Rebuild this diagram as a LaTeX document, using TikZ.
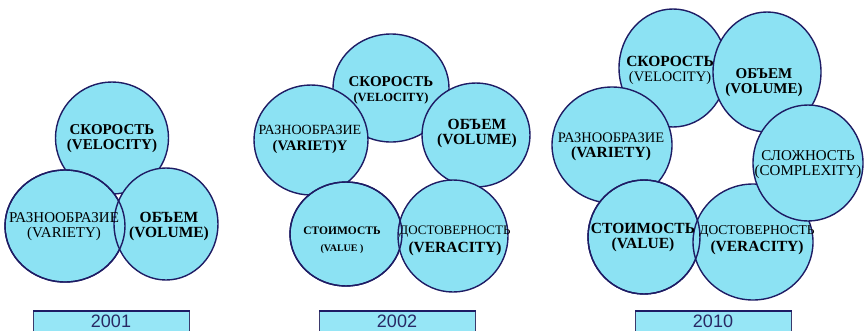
\documentclass[tikz,border=0pt]{standalone}
\usepackage{fontspec}
\setmainfont{Liberation Serif}
\newfontfamily\serifcyr{Liberation Serif}
\newfontfamily\yearfont{Liberation Sans}
\usetikzlibrary{shapes.geometric}
\definecolor{bubble}{RGB}{140,226,243}
\definecolor{rim}{RGB}{30,28,100}
\definecolor{yeartxt}{RGB}{40,40,100}
\definecolor{boxfill}{RGB}{150,230,246}
\newcommand{\fsz}[1]{\fontsize{#1}{#1}\selectfont}
\begin{document}
\begin{tikzpicture}[x=1pt,y=-1pt,
  bub/.style={ellipse,fill=bubble,draw=rim,line width=1.4pt,inner sep=0pt},
  rimonly/.style={ellipse,draw=rim,line width=1.4pt,inner sep=0pt},
  lbl/.style={align=center,inner sep=0pt,text=black,font=\serifcyr},
  yearbox/.style={fill=boxfill,draw=rim!70!gray,line width=0.8pt,minimum width=156,minimum height=30,inner sep=0pt},
  yeartop/.style={draw=rim,line width=1.6pt},
  yearlbl/.style={text=yeartxt,font=\yearfont\fsz{18},inner sep=0pt}]
\clip (0,0) rectangle (864,330);
\fill[white] (0,0) rectangle (864,330);

% ---------- 2001 ----------
\node[bub,minimum width=113,minimum height=112] (a1) at (112,138) {};
\node[bub,minimum width=120,minimum height=112] (a2) at (65,226) {};
\node[bub,minimum width=104,minimum height=112] (a3) at (166,224) {};
\node[rimonly,minimum width=120,minimum height=112] (a2r) at (65,226) {};

\node[lbl] (ta1) at (112,139) {{\serifcyr\bfseries\fsz{15}СКОРОСТЬ}\\[3pt]{\serifcyr\bfseries\fsz{15}(VELOCITY)}};
\node[lbl] (ta2) at (64,227) {{\serifcyr\fsz{15}РАЗНООБРАЗИЕ}\\[3pt]{\serifcyr\fsz{15}(VARIETY)}};
\node[lbl] (ta3) at (169,227) {{\serifcyr\bfseries\fsz{15.5}ОБЪЕМ}\\[3pt]{\serifcyr\bfseries\fsz{15.5}(VOLUME)}};

% ---------- 2002 ----------
\node[bub,minimum width=116,minimum height=108] (b1) at (391,88) {};
\node[bub,minimum width=114,minimum height=110] (b2) at (311,140) {};
\node[bub,minimum width=108,minimum height=104] (b3) at (476,135) {};
\node[bub,minimum width=112,minimum height=104] (b4) at (346,234) {};
\node[bub,minimum width=110,minimum height=112] (b5) at (453,236) {};
\node[rimonly,minimum width=112,minimum height=104] (b4r) at (346,234) {};

\node[lbl] (tb1) at (391,90) {{\serifcyr\bfseries\fsz{15}СКОРОСТЬ}\\[3pt]{\serifcyr\bfseries\fsz{12.5}(VELOCITY)}};
\node[lbl] (tb2) at (310,139) {{\serifcyr\fsz{14}РАЗНООБРАЗИЕ}\\[4pt]{\serifcyr\bfseries\fsz{14.5}(VARIET)Y}};
\node[lbl] (tb3) at (477,134) {{\serifcyr\bfseries\fsz{15.5}ОБЪЕМ}\\[3pt]{\serifcyr\bfseries\fsz{15.5}(VOLUME)}};
\node[lbl] (tb4) at (342,240) {{\serifcyr\bfseries\fsz{11.5}СТОИМОСТЬ}\\[5pt]{\serifcyr\bfseries\fsz{10}(VALUE )}};
\node[lbl] (tb5) at (455,241) {{\serifcyr\fsz{13}ДОСТОВЕРНОСТЬ}\\[4pt]{\serifcyr\bfseries\fsz{15.5}(VERACITY)}};

% ---------- 2010 ----------
\node[bub,minimum width=108,minimum height=118] (c1) at (673,68) {};
\node[bub,minimum width=108,minimum height=120] (c2) at (767,72) {};
\node[bub,minimum width=120,minimum height=116] (c3) at (612,145) {};
\node[bub,minimum width=112,minimum height=114] (c5) at (644,237) {};
\node[bub,minimum width=120,minimum height=116] (c6) at (753,242) {};
\node[rimonly,minimum width=112,minimum height=114] (c5r) at (644,237) {};
\node[bub,minimum width=110,minimum height=116] (c4) at (808,163) {};

\node[lbl] (tc1) at (670,70) {{\serifcyr\bfseries\fsz{15.5}СКОРОСТЬ}\\[3pt]{\serifcyr\fsz{14.5}(VELOCITY)}};
\node[lbl] (tc2) at (764,83) {{\serifcyr\bfseries\fsz{15}ОБЪЕМ}\\[3pt]{\serifcyr\bfseries\fsz{15}(VOLUME)}};
\node[lbl] (tc3) at (611,147) {{\serifcyr\fsz{14.5}РАЗНООБРАЗИЕ}\\[3pt]{\serifcyr\bfseries\fsz{15.5}(VARIETY)}};
\node[lbl] (tc4) at (808,165) {{\serifcyr\fsz{15}СЛОЖНОСТЬ}\\[3pt]{\serifcyr\fsz{15}(COMPLEXITY)}};
\node[lbl] (tc5) at (643,238) {{\serifcyr\bfseries\fsz{15.5}СТОИМОСТЬ}\\[3pt]{\serifcyr\bfseries\fsz{15.5}(VALUE)}};
\node[lbl] (tc6) at (757,240) {{\serifcyr\fsz{13.5}ДОСТОВЕРНОСТЬ}\\[3pt]{\serifcyr\bfseries\fsz{15.5}(VERACITY)}};

% ---------- year boxes ----------
\node[yearbox,anchor=north west] (y1) at (33,311) {};
\node[yearbox,anchor=north west] (y2) at (319,311) {};
\node[yearbox,anchor=north west] (y3) at (635,311) {};
\draw[yeartop] (y1.north west) -- (y1.north east);
\draw[yeartop] (y2.north west) -- (y2.north east);
\draw[yeartop] (y3.north west) -- (y3.north east);
\node[yearlbl] (l1) at (111,321.5) {2001};
\node[yearlbl] (l2) at (397,321.5) {2002};
\node[yearlbl] (l3) at (713,321.5) {2010};
\end{tikzpicture}
\end{document}
